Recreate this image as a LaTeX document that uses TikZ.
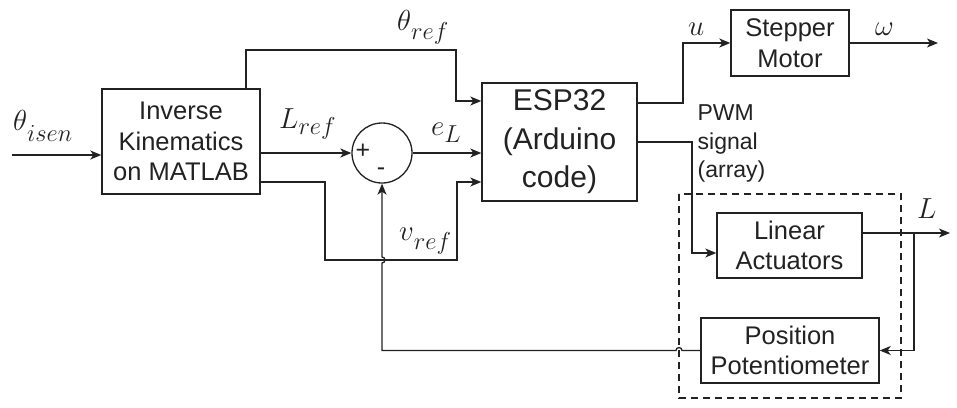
\RequirePackage{fix-cm}
\documentclass[tikz,border=0pt]{standalone}
\usepackage{fontspec}
\newfontfamily\sansf{Liberation Sans}
\usetikzlibrary{arrows.meta}
\definecolor{ink}{HTML}{222222}
\newcommand{\lbl}[3][9pt]{$#2$\raisebox{-#1}{\fontsize{24.5}{24.5}\selectfont$#3$}}
\begin{document}
\begin{tikzpicture}[x=1pt,y=-1pt,
  line/.style={draw=ink,line width=1.3pt},
  arr/.style={line,-{Stealth[length=11pt,width=9pt,inset=3pt]}},
  block/.style={draw=ink,line width=1.4pt,align=center,inner sep=0pt,text=ink,font=\sansf\fontsize{25.5}{30.5}\selectfont},
  mlab/.style={anchor=base west,inner sep=0pt,text=ink,font=\fontsize{29}{30}\selectfont},
  sgn/.style={inner sep=0pt,text=ink,font=\sansf\fontsize{25}{25}\selectfont}]
\useasboundingbox (0,0) rectangle (957,407);
\fill[white] (0,0) rectangle (957,407);

% dashed group
\draw[draw=ink,line width=2.3pt,dash pattern=on 7pt off 5pt] (679,194) rectangle (901,398);

% blocks
\node[block,minimum width=158pt,minimum height=105pt] (ik) at (181,141.5) {Inverse\\Kinematics\\on MATLAB};
\node[block,minimum width=155pt,minimum height=118pt,font=\sansf\fontsize{30}{38.5}\selectfont] (esp) at (559.5,142) {ESP32\\(Arduino\\code)};
\node[block,minimum width=118pt,minimum height=66pt] (stepper) at (790,43) {Stepper\\Motor};
\node[block,minimum width=145pt,minimum height=65pt] (la) at (789.5,245.5) {Linear\\Actuators};
\node[block,minimum width=178pt,minimum height=65pt,font=\sansf\fontsize{25.5}{30}\selectfont] (pp) at (790,350.5) {Position\\Potentiometer};
\node[draw=ink,line width=1.3pt,circle,minimum size=60pt,inner sep=0pt] (sum) at (382,153) {};
\node[sgn] (plus) at (363,151) {+};
\node[sgn] (minus) at (381,172) {-};

% labels
\node[mlab] (lthisen) at (13,130) {\lbl[11pt]{\theta}{isen}};
\node[mlab] (llref) at (279,128) {\lbl[6pt]{L}{ref}};
\node[mlab] (lthref) at (397,30) {\lbl{\theta}{ref}};
\node[mlab] (lvref) at (399,240) {\lbl{v}{ref}};
\node[mlab] (lel) at (431,135) {\lbl[7pt]{e}{L}};
\node[mlab] (lu) at (688,35) {$u$};
\node[mlab] (lw) at (875,35) {$\omega$};
\node[mlab] (lL) at (917,218) {$L$};
\node[inner sep=0pt,text=ink,font=\sansf\fontsize{23}{28.5}\selectfont,align=left] (pwm) at (731.5,143.5) {PWM\\signal\\(array)};

% helper coordinates
\coordinate (in) at (12,155);
\coordinate (thx) at (246,0);
\coordinate (thb) at (456,50);
\coordinate (thy) at (0,101);
\coordinate (va) at (325,260);
\coordinate (vc) at (457,182);
\coordinate (uy) at (0,103);
\coordinate (ub) at (683,43);
\coordinate (we) at (938,43);
\coordinate (py) at (0,142);
\coordinate (pb) at (692,253);
\coordinate (ly) at (0,233);
\coordinate (le) at (950,233);
\coordinate (lb) at (914,233);
\coordinate (h1) at (682,350.5);
\coordinate (fx) at (382,350.5);
\coordinate (h2) at (382,263);

% connectors
\draw[arr] (in) -- (in -| ik.west);
\draw[arr] (ik.north -| thx) |- (thb) |- (esp.west |- thy);
\draw[arr] (ik.east |- sum) -- (sum.west);
\draw[arr] (sum.east) -- (esp.west |- sum);
\draw[arr] (ik.east |- vc) -| (va) -| (vc) -- (esp.west |- vc);
\draw[arr] (esp.east |- uy) -| (ub) -- (stepper.west);
\draw[arr] (stepper.east) -- (we);
\draw[arr] (esp.east |- py) -| (pb) -- (la.west |- pb);
\draw[arr] (la.east |- ly) -- (le);
\draw[arr] (lb) |- (pp.east);
\draw[arr] (pp.west) -- (h1) arc[start angle=0,end angle=-180,radius=3] -- (fx) -- (h2) arc[start angle=90,end angle=-90,radius=3] -- (sum.south);
\end{tikzpicture}
\end{document}
